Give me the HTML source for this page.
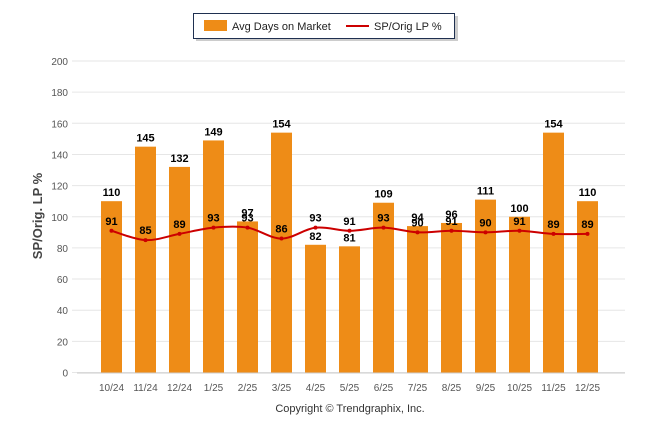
<!DOCTYPE html>
<html><head><meta charset="utf-8"><style>
body{margin:0;background:#fff;font-family:"Liberation Sans",Arial,sans-serif}
svg{display:block}
</style></head><body>
<svg id="c" width="646" height="434" xmlns="http://www.w3.org/2000/svg"></svg>
<script>
const categories=["10/24","11/24","12/24","1/25","2/25","3/25","4/25","5/25","6/25","7/25","8/25","9/25","10/25","11/25","12/25"];
const daysOnMarket=[110,145,132,149,97,154,82,81,109,94,96,111,100,154,110];
const spOrigLP=[91,85,89,93,93,86,93,91,93,90,91,90,91,89,89];
const yTicks=[0,20,40,60,80,100,120,140,160,180,200];
const NS="http://www.w3.org/2000/svg";
const svg=document.getElementById('c');
const y0=372.5,yTop=61,yMax=200;
const yS=v=>y0-(v/yMax)*(y0-yTop);
const xS=i=>111.5+i*34;
function mk(t,a,p){const e=document.createElementNS(NS,t);for(const k in a)e.setAttribute(k,a[k]);(p||svg).appendChild(e);return e;}
// grid
yTicks.forEach(v=>{
  const g=mk('line',{x1:72,x2:625,y1:yS(v),y2:yS(v),stroke:'#e6e6e6','stroke-width':1});
  
  
  const t=mk('text',{x:68,y:yS(v)+4,'text-anchor':'end','font-size':10,fill:'#555'});
  t.textContent=v;
  
  
});
const ax=mk('line',{x1:77,x2:625,y1:y0+0.5,y2:y0+0.5,stroke:'#ccc'});


// bars
daysOnMarket.forEach((v,i)=>{
  const r=mk('rect',{x:xS(i)-10.5,y:yS(v),width:21,height:y0-yS(v),fill:'#ee8c17'});
  
  
  const t=mk('text',{x:xS(i),y:yS(v)-5,'text-anchor':'middle','font-size':11,'font-weight':'bold',fill:'#000'});
  t.textContent=v;
  
  
  const xl=mk('text',{x:xS(i),y:391,'text-anchor':'middle','font-size':10,fill:'#555'});
  xl.textContent=categories[i];
  
  
});
// smooth line
const pts=spOrigLP.map((v,i)=>[xS(i),yS(v)]);
let d='M'+pts[0][0]+','+pts[0][1];
for(let i=0;i<pts.length-1;i++){
  const p0=pts[Math.max(0,i-1)],p1=pts[i],p2=pts[i+1],p3=pts[Math.min(pts.length-1,i+2)];
  const c1=[p1[0]+(p2[0]-p0[0])/6,p1[1]+(p2[1]-p0[1])/6];
  const c2=[p2[0]-(p3[0]-p1[0])/6,p2[1]-(p3[1]-p1[1])/6];
  d+=` C${c1[0]},${c1[1]} ${c2[0]},${c2[1]} ${p2[0]},${p2[1]}`;
}
const ln=mk('path',{d:d,fill:'none',stroke:'#cc0000','stroke-width':2});


pts.forEach((p,i)=>{
  const c=mk('circle',{cx:p[0],cy:p[1],r:2,fill:'#cc0000'});
  
  
  const t=mk('text',{x:p[0],y:p[1]-6,'text-anchor':'middle','font-size':11,'font-weight':'bold',fill:'#000'});
  t.textContent=spOrigLP[i];
  
  
});
// y title
const yt=mk('text',{x:0,y:0,transform:'translate(42,216) rotate(-90)','text-anchor':'middle','font-size':13,'font-weight':'bold',fill:'#444'});
yt.textContent='SP/Orig. LP %';


// legend
const lg=mk('g',{});


mk('rect',{x:196,y:16,width:262,height:25,fill:'#999',opacity:0.5},lg);
mk('rect',{x:193.5,y:13.5,width:261,height:25,fill:'#fff',stroke:'#1f3050'},lg);
const l1=mk('rect',{x:204,y:20,width:23,height:11,fill:'#ee8c17'},lg);


const lt1=mk('text',{x:232,y:30,'font-size':11,fill:'#222'},lg);lt1.textContent='Avg Days on Market';
const l2=mk('line',{x1:346,x2:369,y1:26,y2:26,stroke:'#cc0000','stroke-width':2},lg);


const lt2=mk('text',{x:374,y:30,'font-size':11,fill:'#222'},lg);lt2.textContent='SP/Orig LP %';
// copyright
const cp=mk('text',{x:350,y:412,'text-anchor':'middle','font-size':11,fill:'#333'});
cp.textContent='Copyright © Trendgraphix, Inc.';


</script>
</body></html>
